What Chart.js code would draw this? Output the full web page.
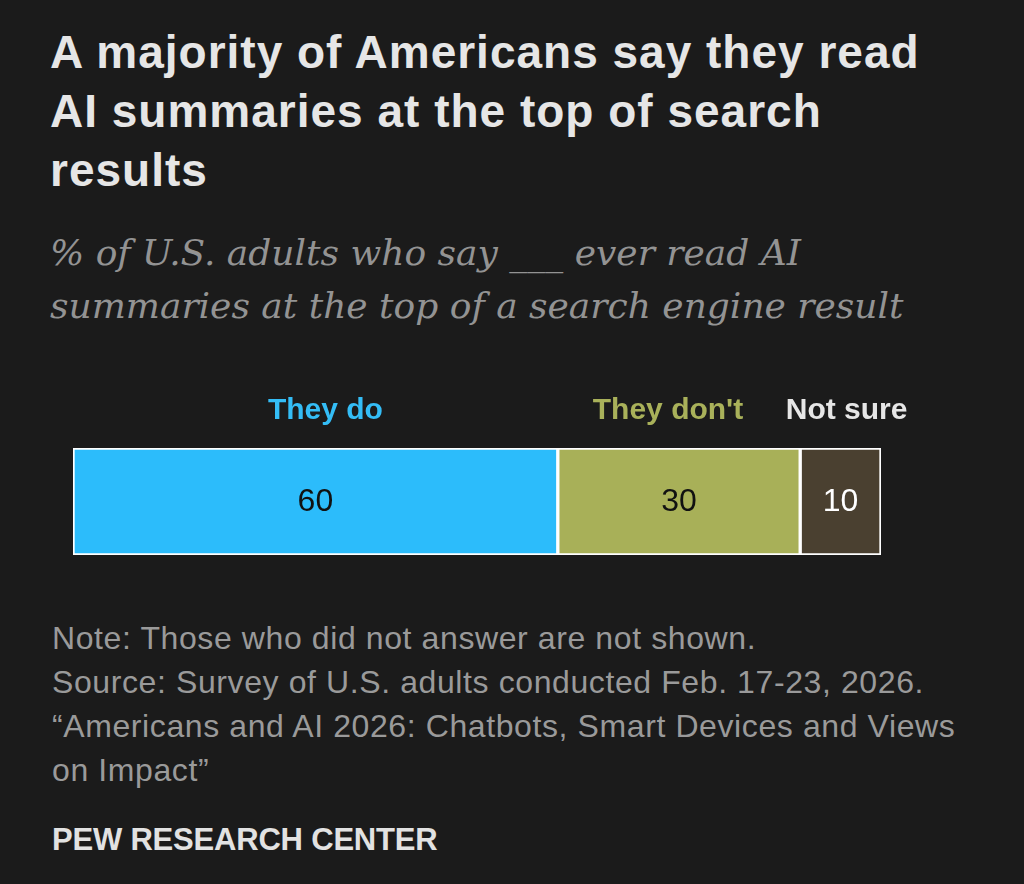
<!DOCTYPE html>
<html><head><meta charset="utf-8">
<script src="https://cdn.jsdelivr.net/npm/chart.js@4"></script>
<style>
html,body{margin:0;padding:0;background:#1b1b1b;}
body{width:1024px;height:884px;position:relative;overflow:hidden;}
#title{position:absolute;left:50px;top:23px;width:1000px;color:#e6e6e6;font-family:"Liberation Sans",Arial,sans-serif;font-weight:bold;font-size:46px;line-height:59px;letter-spacing:1px;white-space:nowrap;}
#sub{position:absolute;left:50px;top:226px;width:1000px;color:#939393;font-family:"DejaVu Serif",serif;font-style:italic;font-size:36px;line-height:53px;white-space:nowrap;}
#chartWrap{position:absolute;left:0;top:380px;width:1024px;height:200px;}
#notes{position:absolute;left:52px;top:616px;width:1000px;color:#9a9a9a;font-family:"Liberation Sans",sans-serif;font-size:32px;line-height:44px;letter-spacing:0.6px;white-space:nowrap;}
#pew{position:absolute;left:52px;top:822px;color:#e2e2e2;font-family:"Liberation Sans",sans-serif;font-weight:bold;font-size:31px;line-height:36px;letter-spacing:-0.2px;white-space:nowrap;}
</style></head>
<body>
<div id="title">A majority of Americans say they read<br>AI summaries at the top of search<br>results</div>
<div id="sub">% of U.S. adults who say ___ ever read AI<br>summaries at the top of a search engine result</div>
<div id="chartWrap"><canvas id="c" width="1024" height="200"></canvas></div>
<div id="notes">Note: Those who did not answer are not shown.<br>Source: Survey of U.S. adults conducted Feb. 17-23, 2026.<br>“Americans and AI 2026: Chatbots, Smart Devices and Views<br>on Impact”</div>
<div id="pew">PEW RESEARCH CENTER</div>
<script>
const categories = ["All U.S. adults"];
const seriesNames = ["They do", "They don't", "Not sure"];
const theyDo = [60];
const theyDont = [30];
const notSure = [10];
const fillColors = ["#2cbcfb", "#a8b058", "#4a4030"];
const labelColors = ["#34bdf6", "#a9b15a", "#e6e6e6"];
const valueColors = ["#111111", "#111111", "#ffffff"];
const labelNudge = [10, -11, 6];

const labelPlugin = {
  id: 'segLabels',
  afterDatasetsDraw(chart) {
    const ctx = chart.ctx;
    ctx.save();
    chart.data.datasets.forEach((ds, i) => {
      const meta = chart.getDatasetMeta(i);
      meta.data.forEach((bar, j) => {
        const p = bar.getProps(['x', 'y', 'base', 'height'], true);
        const cx = (p.x + p.base) / 2;
        ctx.textAlign = 'center';
        ctx.textBaseline = 'middle';
        ctx.font = '32px "Liberation Sans",sans-serif';
        ctx.fillStyle = valueColors[i];
        ctx.fillText(String(ds.data[j]), cx, p.y + 1);
        ctx.font = 'bold 30px "Liberation Sans",sans-serif';
        ctx.fillStyle = labelColors[i];
        ctx.fillText(ds.label, cx + labelNudge[i], p.y - p.height / 2 - 37);
      });
    });
    ctx.restore();
  }
};

new Chart(document.getElementById('c'), {
  type: 'bar',
  data: {
    labels: categories,
    datasets: [
      { label: seriesNames[0], data: theyDo, backgroundColor: fillColors[0] },
      { label: seriesNames[1], data: theyDont, backgroundColor: fillColors[1] },
      { label: seriesNames[2], data: notSure, backgroundColor: fillColors[2] }
    ].map(d => Object.assign(d, { borderColor: '#ffffff', borderWidth: 2, borderSkipped: false, barPercentage: 1, categoryPercentage: 1 }))
  },
  options: {
    indexAxis: 'y',
    responsive: false,
    animation: false,
    layout: { padding: { left: 73, right: 143, top: 68, bottom: 25 } },
    scales: {
      x: { stacked: true, min: 0, max: 100, display: false },
      y: { stacked: true, display: false }
    },
    plugins: { legend: { display: false }, tooltip: { enabled: false } }
  },
  plugins: [labelPlugin]
});
</script>
</body></html>
